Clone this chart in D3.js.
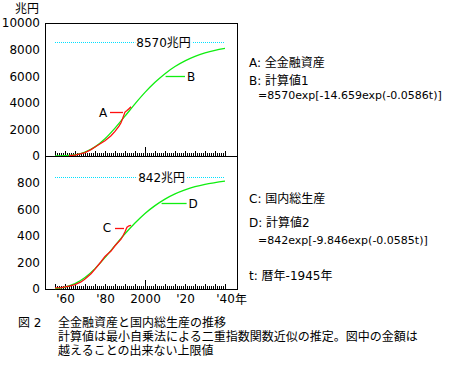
<!DOCTYPE html>
<html>
<head>
<meta charset="utf-8">
<script src="https://cdn.jsdelivr.net/npm/d3@7"></script>
<style>
	body { margin: 0; background: #fff; }
	svg { font-family: "DejaVu Sans", "Noto Sans CJK JP", sans-serif; }
</style>
</head>
<body>
<div id="container"></div>
<script>
// values
var calcYears = [1955, 1960, 1965, 1970, 1975, 1980, 1985, 1990, 1995, 2000, 2005, 2010, 2015, 2020, 2025, 2030, 2035, 2040];
var calc1 = [2, 20, 92, 290, 685, 1300, 2100, 3000, 3920, 4780, 5540, 6190, 6725, 7150, 7490, 7750, 7950, 8100];
var calc2 = [3, 14, 40, 86, 153, 236, 326, 415, 496, 568, 627, 676, 715, 745, 769, 787, 800, 811];

var assetYears = [1962, 1965, 1968, 1970, 1973, 1975, 1978, 1980, 1983, 1985, 1987, 1988, 1989, 1990, 1991, 1992, 1993];
var assets = [20, 70, 170, 260, 480, 680, 960, 1150, 1520, 1850, 2250, 2500, 2900, 3300, 3420, 3560, 3700];

var gdpYears = [1955, 1958, 1960, 1962, 1965, 1968, 1970, 1973, 1975, 1978, 1980, 1983, 1985, 1988, 1989, 1990, 1991, 1992, 1993];
var gdp = [9, 11, 16, 22, 33, 53, 75, 115, 150, 205, 245, 285, 325, 375, 400, 430, 465, 475, 478];

var limit1 = 8570, limit2 = 842;
var topTicks = [0, 2000, 4000, 6000, 8000, 10000];
var botTicks = [0, 200, 400, 600, 800];
var labelYears = [1960, 1980, 2000, 2020, 2040];
var labelText = ["'60", "'80", "2000", "'20", "'40"];

var legend = [
	{t: "A: 全金融資産", y: 67, x: 249, s: 12},
	{t: "B: 計算値1", y: 84.5, x: 249, s: 12},
	{t: "=8570exp[-14.659exp(-0.0586t)]", y: 98.5, x: 258, s: 11},
	{t: "C: 国内総生産", y: 203, x: 249, s: 12},
	{t: "D: 計算値2", y: 227, x: 249, s: 12},
	{t: "=842exp[-9.846exp(-0.0585t)]", y: 244, x: 258, s: 11},
	{t: "t: 暦年-1945年", y: 280, x: 249, s: 12}
];
var caption = ["全金融資産と国内総生産の推移",
	"計算値は最小自乗法による二重指数関数近似の推定。図中の金額は",
	"越えることの出来ない上限値"];

var width = 469, height = 370;
var left = 45, right = 237;

var svg = d3.select("#container").append("svg")
	.attr("width", width)
	.attr("height", height);

svg.append("rect").attr("width", width).attr("height", height).style("fill", "#fff");

var x = d3.scaleLinear().domain([1950, 2046]).range([left, right]);
var yTop = d3.scaleLinear().domain([0, 10000]).range([156, 23]);
var yBot = d3.scaleLinear().domain([0, 1000]).range([289, 156]);

function panel(y, ticks, calc, realYears, real, limit, limLabel, realName, calcName, realAnn, calcAnn){
	var g = svg.append("g");

	// year ticks pointing up from the baseline
	var base = y.range()[0];
	var minor = d3.range(1955, 2041);
	var five = minor.filter(function(d){ return d % 5 == 0; });
	[[minor, 4], [five, 6], [[2000], 10]].forEach(function(t){
		var ax = g.append("g")
			.attr("transform", "translate(0," + (base + 0.5) + ")")
			.call(d3.axisBottom(x).tickValues(t[0]).tickSize(-t[1]).tickSizeOuter(0).tickFormat(""));
		ax.select(".domain").remove();
		ax.selectAll("line").attr("shape-rendering", "crispEdges");
	});

	// frame
	g.append("rect")
		.attr("x", left + 0.5)
		.attr("y", y.range()[1] + 0.5)
		.attr("width", right - left)
		.attr("height", y.range()[0] - y.range()[1])
		.attr("shape-rendering", "crispEdges")
		.style("fill", "none")
		.style("stroke", "#000");

	var yAx = g.append("g")
		.attr("transform", "translate(" + left + ",0)")
		.call(d3.axisLeft(y).tickValues(ticks).tickSize(0).tickPadding(5).tickFormat(d3.format("d")));
	yAx.select(".domain").remove();
	yAx.selectAll("text").style("font-size", "12px").style("font-family", "DejaVu Sans").attr("fill", "#000");

	// upper limit
	g.append("line")
		.attr("x1", x(1955)).attr("x2", x(2040))
		.attr("y1", Math.round(y(limit)) + 0.5).attr("y2", Math.round(y(limit)) + 0.5)
		.attr("shape-rendering", "crispEdges")
		.style("stroke", "#00e0ff")
		.style("stroke-dasharray", "1,1");
	var lt = g.append("text")
		.attr("x", x(limLabel[0]))
		.attr("y", y(limit) + 4.5)
		.attr("text-anchor", "middle")
		.style("font-size", "12px")
		.text(limLabel[1]);
	var bb = lt.node().getBBox();
	g.insert("rect", function(){ return lt.node(); })
		.attr("x", bb.x - 1).attr("y", bb.y + 2)
		.attr("width", bb.width + 2).attr("height", bb.height - 4)
		.style("fill", "#fff");

	var line = d3.line()
		.x(function(d){ return x(d[0]); })
		.y(function(d){ return y(d[1]); });

	g.append("path")
		.attr("d", line.curve(d3.curveMonotoneX)(calcYears.map(function(d, i){ return [d, calc[i]]; })))
		.style("fill", "none").style("stroke", "#10ee10").style("stroke-width", 1.3);
	g.append("path")
		.attr("d", line.curve(d3.curveLinear)(realYears.map(function(d, i){ return [d, real[i]]; })))
		.style("fill", "none").style("stroke", "#ff1010").style("stroke-width", 1.3);

	// leaders
	[[realAnn, "#ff1010", realName], [calcAnn, "#10ee10", calcName]].forEach(function(a){
		var p = a[0];
		g.append("line")
			.attr("x1", x(p.x1)).attr("x2", x(p.x2))
			.attr("y1", Math.round(y(p.v)) + 0.5).attr("y2", Math.round(y(p.v)) + 0.5)
			.style("stroke", a[1]).style("stroke-width", 1.3);
		g.append("text")
			.attr("x", x(p.lx))
			.attr("y", y(p.v) + 4.5)
			.attr("text-anchor", "middle")
			.style("font-size", "12px")
			.text(a[2]);
	});
}

panel(yTop, topTicks, calc1, assetYears, assets, limit1, [2009.3, "8570兆円"], "A", "B",
	{x1: 1982.5, x2: 1989, v: 3300, lx: 1979},
	{x1: 2010.3, x2: 2020, v: 6015, lx: 2023});
panel(yBot, botTicks, calc2, gdpYears, gdp, limit2, [2008.3, "842兆円"], "C", "D",
	{x1: 1985, x2: 1989.5, v: 459, lx: 1981},
	{x1: 2008.3, x2: 2020.8, v: 643, lx: 2024});

// year labels
var xAx = svg.append("g")
	.attr("transform", "translate(0,289)")
	.call(d3.axisBottom(x).tickValues(labelYears).tickSize(0).tickPadding(5)
		.tickFormat(function(d, i){ return labelText[i]; }));
xAx.select(".domain").remove();
xAx.selectAll("text").style("font-size", "12px").style("font-family", "DejaVu Sans").attr("fill", "#000");
svg.append("text")
	.attr("x", x(2040) + 10)
	.attr("y", 304)
	.style("font-size", "12px")
	.text("年");

svg.append("text")
	.attr("x", 39)
	.attr("y", 12.5)
	.attr("text-anchor", "end")
	.style("font-size", "12px")
	.text("兆円");

svg.selectAll(".leg").data(legend).enter()
	.append("text")
	.attr("class", "leg")
	.attr("x", function(d){ return d.x; })
	.attr("y", function(d){ return d.y; })
	.style("font-size", function(d){ return d.s + "px"; })
	.text(function(d){ return d.t; });

svg.append("text")
	.attr("x", 18)
	.attr("y", 327)
	.style("font-size", "12px")
	.text("図  2");
svg.selectAll(".cap").data(caption).enter()
	.append("text")
	.attr("class", "cap")
	.attr("x", 58)
	.attr("y", function(d, i){ return 327 + i * 14; })
	.style("font-size", "12px")
	.text(function(d){ return d; });
</script>
</body>
</html>
